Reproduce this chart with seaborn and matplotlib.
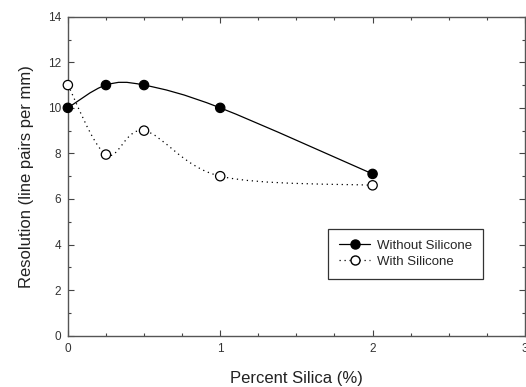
import numpy as np
import pandas as pd
import matplotlib
matplotlib.use("Agg")
import matplotlib.pyplot as plt
import seaborn as sns
from matplotlib.path import Path
from matplotlib.patches import PathPatch
from matplotlib.lines import Line2D
from matplotlib.ticker import MultipleLocator

silica = [0, 0.25, 0.5, 1, 2]
without_silicone = [10, 11, 11, 10, 7.1]
with_silicone = [11, 7.95, 9, 7, 6.6]

sns.set_style("ticks")
plt.rcParams['font.family'] = ['Liberation Sans', 'DejaVu Sans']

df = pd.DataFrame({
    "silica": silica * 2,
    "res": without_silicone + with_silicone,
    "series": ["Without Silicone"] * 5 + ["With Silicone"] * 5,
})

fig = plt.figure(figsize=(5.26, 3.87), dpi=100)
ax = fig.add_axes([0.129, 0.1326, 0.869, 0.8242])


def smooth_path(xs, ys):
    # Catmull-Rom curve through the points, drawn as cubic Bezier segments
    pts = np.column_stack([xs, ys]).astype(float)
    ext = np.vstack([pts[0], pts, pts[-1]])
    verts = [pts[0]]
    codes = [Path.MOVETO]
    for i in range(1, len(ext) - 2):
        p0, p1, p2, p3 = ext[i - 1], ext[i], ext[i + 1], ext[i + 2]
        verts += [p1 + (p2 - p0) / 6, p2 - (p3 - p1) / 6, p2]
        codes += [Path.CURVE4] * 3
    return Path(verts, codes)


ax.add_patch(PathPatch(smooth_path(silica, without_silicone), fill=False,
                       edgecolor="black", lw=0.9, zorder=2))
ax.add_patch(PathPatch(smooth_path(silica, with_silicone), fill=False,
                       edgecolor="black", lw=0.9, linestyle=(0, (1, 3)), zorder=2))

sns.scatterplot(data=df, x="silica", y="res", hue="series", style="series",
                palette={"Without Silicone": "black", "With Silicone": "white"},
                markers={"Without Silicone": "o", "With Silicone": "o"},
                edgecolor="black", linewidth=0.9, s=45, legend=False,
                zorder=3, clip_on=False, ax=ax)

ax.set_xlim(0, 3)
ax.set_ylim(0, 14)
ax.xaxis.set_major_locator(MultipleLocator(1))
ax.xaxis.set_minor_locator(MultipleLocator(0.25))
ax.yaxis.set_major_locator(MultipleLocator(2))
ax.yaxis.set_minor_locator(MultipleLocator(1))
ax.tick_params(which="both", direction="in", top=True, right=True,
               labelsize=8.5, labelcolor="#333333", color="#444444", width=0.8)
ax.tick_params(which="major", length=4, pad=5)
ax.tick_params(which="minor", length=2.5)
for sp in ax.spines.values():
    sp.set_color("#555555")
    sp.set_linewidth(1.0)

ax.set_xlabel("Percent Silica (%)", fontsize=12, color="#222222", labelpad=12)
ax.set_ylabel("Resolution (line pairs per mm)", fontsize=12, color="#222222", labelpad=10)

handles = [
    Line2D([], [], color="black", lw=0.9, marker="o", markersize=6.5,
           markerfacecolor="black", markeredgecolor="black"),
    Line2D([], [], color="black", lw=0.9, linestyle=(0, (1, 3)), marker="o",
           markersize=6.5, markerfacecolor="white", markeredgecolor="black"),
]
leg = ax.legend(handles, ["Without Silicone", "With Silicone"],
                loc="upper left", bbox_to_anchor=(0.555, 0.355),
                fontsize=9.5, frameon=True, fancybox=False,
                edgecolor="#333333", framealpha=1, handlelength=2.4,
                handletextpad=0.5, borderpad=0.8, labelspacing=0.3)
leg.get_frame().set_linewidth(0.9)

fig.savefig("out.png", dpi=100)
